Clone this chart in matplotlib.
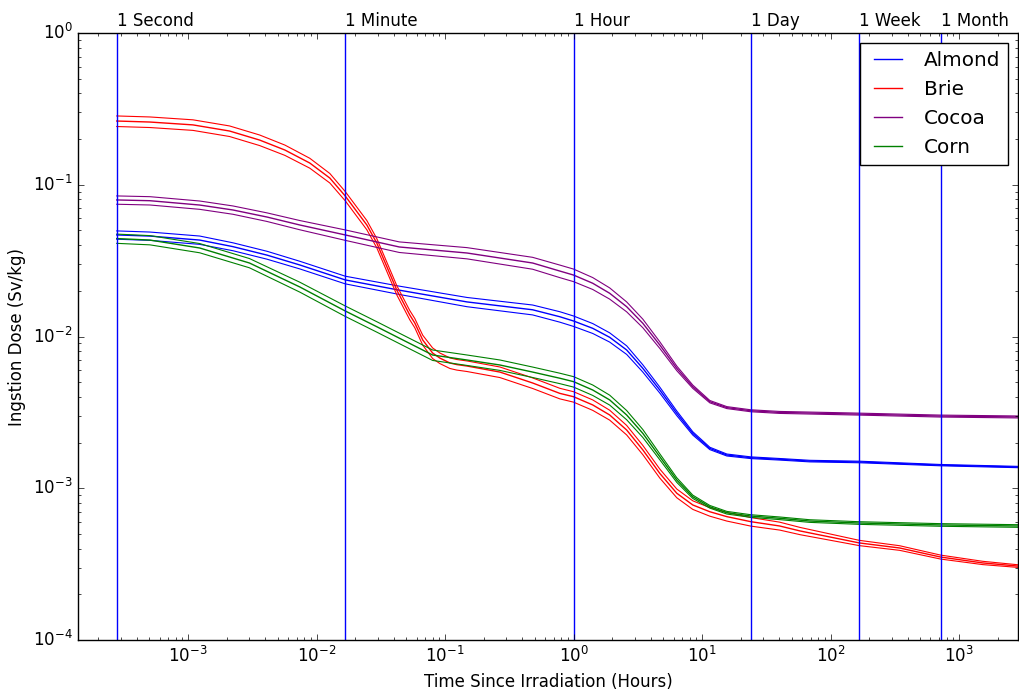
import numpy as np
import matplotlib
matplotlib.use("Agg")
import matplotlib.pyplot as plt
import matplotlib.transforms as mtransforms

# === Data (time in hours, dose in Sv/kg, relative band half-width) ===
t_almond = [2.78e-4, 5.04e-4, 1.23e-3, 2.23e-3, 4.1e-3, 7.4e-3, 1.67e-2, 0.044, 0.148, 0.48,
            0.781, 1.0, 1.41, 1.91, 2.59, 3.46, 4.69, 6.36, 8.47, 11.5,
            15.6, 24, 40.2, 69, 168, 720, 2880]
d_almond = [0.0467, 0.0459, 0.0432, 0.0391, 0.0344, 0.0296, 0.0236, 0.0202, 0.0169, 0.0150,
            0.0135, 0.01265, 0.01132, 0.00988, 0.00815, 0.00617, 0.00444, 0.00312, 0.00230, 0.00183,
            0.001656, 0.001589, 0.001552, 0.00151, 0.00149, 0.00142, 0.00138]
e_almond = [0.063, 0.063, 0.063, 0.06, 0.06, 0.058, 0.058, 0.063, 0.07, 0.075,
            0.079, 0.079, 0.075, 0.07, 0.065, 0.055, 0.045, 0.035, 0.025, 0.018,
            0.015, 0.013, 0.012, 0.012, 0.012, 0.01, 0.01]

t_brie = [2.78e-4, 5.04e-4, 1.09e-3, 2.1e-3, 3.6e-3, 5.66e-3, 8.85e-3, 1.267e-2, 1.67e-2, 0.0246,
          0.0294, 0.0421, 0.0531, 0.0581, 0.067, 0.080, 0.091, 0.109, 0.1233, 0.148,
          0.267, 0.48, 0.781, 1.0, 1.41, 1.91, 2.59, 3.46, 4.69, 6.36,
          8.47, 11.5, 15.6, 24, 40.2, 58, 168, 345, 720, 1530, 2880]
d_brie = [0.263, 0.259, 0.248, 0.226, 0.197, 0.1694, 0.139, 0.1107, 0.0843, 0.0543,
          0.0413, 0.0202, 0.01386, 0.01228, 0.00948, 0.00778, 0.00721, 0.00669, 0.00653, 0.00639,
          0.00583, 0.00494, 0.00422, 0.00401, 0.00354, 0.00304, 0.00242, 0.00179, 0.001253, 0.000927,
          0.000776, 0.000700, 0.000650, 0.000602, 0.000564, 0.000523, 0.000436, 0.000404, 0.000352, 0.000322,
          0.000307]
e_brie = [0.08, 0.08, 0.08, 0.08, 0.08, 0.078, 0.075, 0.072, 0.07, 0.07,
          0.07, 0.07, 0.07, 0.07, 0.075, 0.08, 0.08, 0.08, 0.08, 0.08,
          0.08, 0.08, 0.08, 0.079, 0.079, 0.075, 0.072, 0.07, 0.068, 0.066,
          0.065, 0.065, 0.065, 0.065, 0.06, 0.055, 0.04, 0.035, 0.03, 0.025,
          0.02]

t_cocoa = [2.78e-4, 5.04e-4, 1.23e-3, 2.23e-3, 4.1e-3, 7.4e-3, 1.67e-2, 0.044, 0.148, 0.48,
           0.781, 1.0, 1.41, 1.91, 2.59, 3.46, 4.69, 6.36, 8.47, 11.5,
           15.6, 24, 40.2, 69, 168, 720, 2880]
d_cocoa = [0.0794, 0.0785, 0.0735, 0.0682, 0.0613, 0.0543, 0.0467, 0.0389, 0.0355, 0.0305,
           0.0270, 0.0254, 0.02243, 0.01927, 0.01572, 0.01222, 0.00879, 0.00617, 0.00467, 0.00372,
           0.00340, 0.00324, 0.00316, 0.00313, 0.00308, 0.00299, 0.00295]
e_cocoa = [0.063, 0.063, 0.063, 0.063, 0.065, 0.07, 0.079, 0.08, 0.085, 0.09,
           0.095, 0.095, 0.09, 0.085, 0.075, 0.065, 0.05, 0.035, 0.025, 0.018,
           0.015, 0.015, 0.015, 0.015, 0.015, 0.015, 0.015]

t_corn = [2.78e-4, 5.04e-4, 1.23e-3, 3.0e-3, 7.4e-3, 1.67e-2, 0.0294, 0.0504, 0.080, 0.148,
          0.267, 0.48, 0.781, 1.0, 1.41, 1.91, 2.59, 3.46, 4.69, 6.36,
          8.47, 11.5, 15.6, 24, 40.2, 69, 168, 720, 2880]
d_corn = [0.0442, 0.0432, 0.0383, 0.0305, 0.0212, 0.01473, 0.01160, 0.0092, 0.00755, 0.0070,
          0.00649, 0.00583, 0.00531, 0.00504, 0.00444, 0.00382, 0.00304, 0.00230, 0.001614, 0.001133,
          0.000879, 0.000755, 0.000690, 0.000656, 0.000634, 0.000608, 0.00059, 0.000573, 0.000564]
e_corn = [0.07, 0.07, 0.07, 0.07, 0.075, 0.079, 0.079, 0.079, 0.079, 0.079,
          0.079, 0.079, 0.079, 0.079, 0.079, 0.075, 0.07, 0.06, 0.045, 0.035,
          0.025, 0.02, 0.02, 0.02, 0.02, 0.02, 0.02, 0.02, 0.02]

# time markers (hours)
mark_labels = ["1 Second", "1 Minute", "1 Hour", "1 Day", "1 Week", "1 Month"]
mark_hours = [1 / 3600.0, 1 / 60.0, 1.0, 24.0, 168.0, 720.0]

series = [
    ("Almond", "blue", t_almond, d_almond, e_almond),
    ("Brie", "red", t_brie, d_brie, e_brie),
    ("Cocoa", "purple", t_cocoa, d_cocoa, e_cocoa),
    ("Corn", "green", t_corn, d_corn, e_corn),
]

plt.style.use("classic")
plt.rcParams["savefig.facecolor"] = "white"

fig = plt.figure(figsize=(10.19, 6.9), dpi=100, facecolor="white")
ax = fig.add_axes([78 / 1019, 50 / 690, 940 / 1019, 607 / 690])

for name, color, t, d, e in series:
    t = np.asarray(t)
    d = np.asarray(d)
    e = np.asarray(e)
    # central value plus upper / lower band
    ax.plot(t, d, color=color, lw=1.0, label=name)
    ax.plot(t, d * (1 + e), color=color, lw=0.8)
    ax.plot(t, d * (1 - e), color=color, lw=0.8)

trans = mtransforms.blended_transform_factory(ax.transData, ax.transAxes)
for lab, h in zip(mark_labels, mark_hours):
    ax.axvline(h, color="blue", lw=1.0)
    ax.text(h, 1.005, lab, transform=trans, ha="left", va="bottom", fontsize=12)

ax.set_xscale("log")
ax.set_yscale("log")
ax.set_xlim(1 / 7200.0, 2880)
ax.set_ylim(1e-4, 1)
ax.set_xlabel("Time Since Irradiation (Hours)")
ax.set_ylabel("Ingstion Dose (Sv/kg)")
ax.legend(loc="upper right")

fig.savefig("out.png", dpi=100)
